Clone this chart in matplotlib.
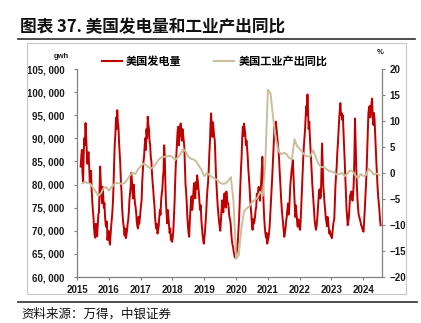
import matplotlib
matplotlib.use("Agg")
import matplotlib.pyplot as plt
import matplotlib.dates as mdates
from matplotlib.lines import Line2D
from matplotlib.patches import Rectangle
from matplotlib.ticker import FuncFormatter, FixedLocator
import pandas as pd

# ---------------- data ----------------
title = "图表 37. 美国发电量和工业产出同比"
source = "资料来源：万得，中银证券"
series_power = "美国发电量"
series_ip = "美国工业产出同比"
left_unit = "gwh"
right_unit = "%"

# US weekly power generation (thousand GWh), weekly from 2015-05-13, one list per 52 weeks
power_2015 = [83.9, 86.0, 87.5, 82.5, 80.6, 86.5, 90.0, 88.5, 93.3, 90.5, 88.0, 84.5, 86.5,
              87.0, 84.0, 80.5, 82.5, 83.0, 79.0, 76.5, 74.5, 73.0, 70.5, 69.0, 68.5, 71.5,
              69.5, 68.8, 71.0, 73.5, 74.0, 79.0, 83.9, 80.5, 78.0, 76.0, 79.5, 77.5, 75.0,
              76.0, 73.0, 71.5, 70.8, 72.0, 68.0, 69.5, 70.0, 68.0, 67.0, 69.0, 70.9, 72.5]
power_2016 = [74.0, 76.5, 80.0, 85.0, 88.9, 91.0, 94.5, 92.0, 96.1, 93.5, 92.5, 89.0, 86.8,
              84.5, 80.5, 78.5, 75.0, 73.0, 71.5, 70.5, 69.0, 70.5, 68.4, 69.0, 70.0, 71.5,
              72.3, 74.0, 76.6, 78.0, 79.5, 82.5, 81.0, 78.5, 77.0, 80.0, 78.0, 76.0, 75.2,
              74.0, 72.0, 71.0, 70.5, 73.0, 71.5, 72.5, 74.0, 75.5, 76.6, 80.5, 83.0, 85.0]
power_2017 = [86.0, 88.5, 90.0, 87.5, 92.0, 90.0, 94.7, 93.0, 92.0, 89.5, 88.5, 86.0, 85.0,
              82.5, 80.5, 79.0, 77.0, 75.5, 73.0, 71.5, 70.5, 71.5, 69.4, 70.0, 71.0, 73.0,
              74.5, 73.5, 76.6, 78.0, 79.0, 81.5, 83.0, 88.5, 86.0, 80.0, 76.0, 73.5, 71.6,
              74.5, 73.0, 71.0, 69.5, 70.5, 68.0, 69.0, 67.6, 68.5, 70.0, 73.0, 76.0, 80.5]
power_2018 = [84.0, 86.5, 89.0, 91.5, 92.5, 88.5, 90.5, 92.0, 93.2, 91.0, 89.5, 92.0, 91.0,
              89.5, 88.2, 84.0, 80.0, 78.5, 76.0, 73.0, 71.0, 69.5, 68.7, 72.0, 74.5, 76.5,
              77.5, 74.5, 76.0, 78.5, 80.3, 78.0, 77.0, 80.5, 79.0, 82.0, 81.0, 79.5, 78.0,
              76.0, 74.5, 75.5, 72.3, 70.5, 69.0, 68.0, 67.2, 68.5, 70.0, 72.0, 74.0, 77.0]
power_2019 = [79.0, 80.5, 83.0, 86.5, 89.0, 93.0, 95.4, 92.0, 90.3, 93.5, 92.0, 90.5, 89.6,
              86.0, 82.0, 79.5, 77.0, 75.0, 73.5, 72.0, 70.9, 70.0, 72.0, 74.5, 76.6, 75.0,
              74.0, 77.0, 78.1, 76.5, 75.0, 78.5, 77.0, 76.0, 75.9, 74.5, 73.0, 72.5, 71.6,
              69.5, 68.0, 67.0, 66.5, 65.5, 64.8, 64.2, 64.4, 64.8, 65.5, 66.5, 68.0, 70.5]
power_2020 = [73.0, 76.5, 80.0, 83.5, 86.0, 90.0, 92.5, 90.5, 93.2, 92.0, 91.0, 88.5, 89.5,
              88.0, 86.0, 83.5, 81.5, 79.5, 77.0, 75.0, 73.5, 71.5, 70.2, 72.5, 71.5, 72.0,
              73.0, 74.5, 75.2, 78.0, 77.0, 78.5, 79.5, 78.0, 76.5, 78.5, 80.3, 83.0, 86.0,
              81.0, 76.0, 73.0, 70.9, 69.5, 68.5, 69.5, 67.2, 67.8, 68.5, 69.5, 71.0, 73.5]
power_2021 = [76.0, 78.5, 81.0, 84.0, 86.5, 90.0, 92.5, 91.0, 93.6, 92.5, 91.0, 89.5, 88.0,
              86.5, 84.0, 81.5, 79.0, 76.5, 74.5, 73.0, 71.5, 70.0, 68.7, 69.5, 70.5, 72.0,
              73.0, 74.5, 75.9, 73.5, 74.5, 77.5, 80.0, 81.5, 83.0, 84.0, 85.3, 82.0, 79.0,
              76.0, 73.0, 75.5, 74.0, 72.0, 70.9, 72.5, 71.5, 70.5, 70.2, 72.5, 75.9, 79.5]
power_2022 = [83.0, 85.5, 88.0, 90.0, 91.8, 94.5, 97.0, 95.0, 99.5, 96.0, 92.0, 93.5, 90.3,
              88.0, 85.3, 82.5, 80.0, 78.0, 76.0, 74.0, 72.0, 71.0, 70.2, 71.0, 72.5, 74.5,
              76.6, 78.5, 79.0, 77.0, 77.4, 83.0, 88.9, 84.0, 79.5, 78.0, 76.0, 74.5, 73.0,
              72.0, 71.0, 73.0, 72.0, 70.5, 69.4, 70.0, 69.0, 68.8, 68.4, 69.5, 71.0, 72.0]
power_2023 = [72.5, 76.0, 80.0, 82.0, 84.0, 87.0, 89.0, 91.5, 94.0, 96.0, 97.6, 95.0, 95.5,
              94.0, 95.0, 92.0, 89.5, 85.5, 82.0, 78.5, 75.0, 73.0, 71.2, 72.0, 73.0, 75.5,
              77.7, 78.0, 78.5, 77.0, 76.5, 78.0, 80.5, 86.0, 94.3, 89.0, 84.0, 80.0, 77.0,
              75.0, 73.5, 73.0, 72.5, 72.0, 71.2, 71.0, 70.5, 70.0, 69.8, 72.0, 74.5, 77.0]
power_2024 = [79.9, 83.0, 87.0, 91.5, 95.5, 96.5, 97.0, 94.5, 96.0, 97.5, 98.6, 95.0, 92.9,
              95.5, 94.3, 91.0, 88.0, 85.0, 82.0, 79.5, 77.5, 76.0, 74.5, 72.5, 71.2]

power_k = (power_2015 + power_2016 + power_2017 + power_2018 + power_2019 +
           power_2020 + power_2021 + power_2022 + power_2023 + power_2024)
power = [v * 1000 for v in power_k]
power_dates = pd.date_range("2015-05-13", periods=len(power), freq="7D")

# US industrial production YoY (%), monthly from 2015-06
ip_yoy = [-2.0, -1.7, -1.9, -2.1, -2.8, -3.5, -4.4, -3.9, -2.9, -2.7, -3.4, -2.7,   # 2015-06 .. 2016-05
          -2.2, -1.9, -2.0, -2.1, -1.9, -1.2, -0.4, 0.0, -0.2, 0.7, 1.3, 1.8,        # 2016-06 .. 2017-05
          1.6, 1.1, 0.9, 1.3, 2.0, 2.7, 3.1, 3.1, 3.2, 3.3, 3.1, 2.5,                # 2017-06 .. 2018-05
          3.0, 3.6, 4.6, 4.1, 3.1, 2.7, 2.6, 2.2, 1.3, 0.6, -0.6, 0.0,               # 2018-06 .. 2019-05
          -0.4, -0.8, -1.1, -1.4, -1.9, -2.1, -2.0, -1.5, -0.8, -5.3, -16.5, -15.8,  # 2019-06 .. 2020-05
          -10.5, -7.4, -6.8, -6.4, -5.6, -5.2, -4.8, -3.6, -4.4, 1.5, 16.0, 15.3,    # 2020-06 .. 2021-05
          10.5, 6.5, 4.2, 3.6, 3.9, 3.6, 2.9, 2.6, 6.5, 5.2, 4.7, 4.0,               # 2021-06 .. 2022-05
          3.4, 3.2, 3.2, 4.4, 3.1, 1.8, 1.1, 1.2, 0.8, 0.4, 0.3, 0.1,                # 2022-06 .. 2023-05
          -0.3, -0.2, 0.0, -0.6, -0.1, 0.5, 0.3, -0.5, -1.0, -0.2, -0.6, -0.4,       # 2023-06 .. 2024-05
          0.8, 0.3, -0.3, -0.1, -0.4]                                                # 2024-06 .. 2024-10
ip_dates = pd.date_range("2015-06-01", periods=len(ip_yoy), freq="MS")

years = list(range(2015, 2025))
left_ticks = list(range(60000, 105001, 5000))
right_ticks = list(range(-20, 21, 5))

# ---------------- style ----------------
RED = "#C00000"
TAN = "#C9BF9B"
SPINE = "#808080"
CJK = ["Noto Sans CJK SC", "DejaVu Sans"]
NUM = ["Liberation Sans", "DejaVu Sans"]

W, H = 421, 323
fig = plt.figure(figsize=(W / 100, H / 100), dpi=100)
fig.patch.set_facecolor("white")

def fx(px):
    return px / W

def fy(py):
    return 1 - py / H

ax = fig.add_axes([fx(77), fy(277), fx(382) - fx(77), fy(69) - fy(277)])
ax2 = ax.twinx()

ax.plot(power_dates, power, color=RED, lw=1.4, solid_joinstyle="round", zorder=2)
ax2.plot(ip_dates, ip_yoy, color=TAN, lw=1.4, solid_joinstyle="round", zorder=3)

ax.set_xlim(pd.Timestamp("2015-04-01"), pd.Timestamp("2024-11-01"))
ax.set_ylim(60000, 105000)
ax2.set_ylim(-20, 20)

ax.xaxis.set_major_locator(FixedLocator([mdates.date2num(pd.Timestamp(f"{y}-04-01")) for y in years]))
ax.set_xticklabels([str(y) for y in years])
ax.set_yticks(left_ticks)
ax.yaxis.set_major_formatter(FuncFormatter(lambda v, p: f"{v:,.0f}".replace(",", ", ")))
ax2.set_yticks(right_ticks)
ax2.yaxis.set_major_formatter(FuncFormatter(lambda v, p: f"{v:.0f}".replace("-", "\u2212")))

for a in (ax, ax2):
    a.set_facecolor("none")
    for s in a.spines.values():
        s.set_color(SPINE)
        s.set_linewidth(0.9)
    a.spines["top"].set_visible(False)
    a.tick_params(length=2.5, width=0.8, color=SPINE, labelsize=7, labelcolor="#1a1a1a")
ax.tick_params(axis="y", pad=6.5)
ax.tick_params(axis="x", pad=3)
ax2.tick_params(axis="y", pad=3)
ax.spines["right"].set_visible(False)
ax2.spines["left"].set_visible(False)
ax2.spines["bottom"].set_visible(False)
for lab in ax.get_xticklabels() + ax.get_yticklabels() + ax2.get_yticklabels():
    lab.set_fontfamily(NUM)
    lab.set_fontweight("bold")

# legend
handles = [Line2D([], [], color=RED, lw=1.5), Line2D([], [], color=TAN, lw=1.5)]
fig.legend(handles, [series_power, series_ip], loc="center left",
           bbox_to_anchor=(fx(101.5), fy(61)), ncol=2, frameon=False,
           borderpad=0, borderaxespad=0, handlelength=1.8, handletextpad=0.35,
           columnspacing=3.0, prop={"family": CJK, "size": 8, "weight": "bold"})

# units
fig.text(fx(61), fy(56), left_unit, ha="center", va="center", fontsize=5.5,
         fontweight="bold", family=NUM, color="#1a1a1a")
fig.text(fx(380), fy(52), right_unit, ha="center", va="center", fontsize=5.5,
         fontweight="bold", family=NUM, color="#1a1a1a")

# title, frame and source
fig.text(fx(20), fy(27), title, ha="left", va="center", fontsize=12,
         fontweight="bold", family=CJK, color="#111111")
fig.add_artist(Line2D([fx(18), fx(415)], [fy(39), fy(39)], color="#404040", lw=1.3))
fig.add_artist(Rectangle((fx(27), fy(294)), fx(406) - fx(27), fy(43) - fy(294),
                         fill=False, edgecolor="#C8C8C8", lw=0.8))
fig.add_artist(Line2D([fx(18), fx(417)], [fy(301.5), fy(301.5)], color="#404040", lw=1.3))
fig.text(fx(21), fy(314), source, ha="left", va="center", fontsize=9,
         style="italic", family=CJK, color="#111111")

fig.savefig("out.png", dpi=100)
